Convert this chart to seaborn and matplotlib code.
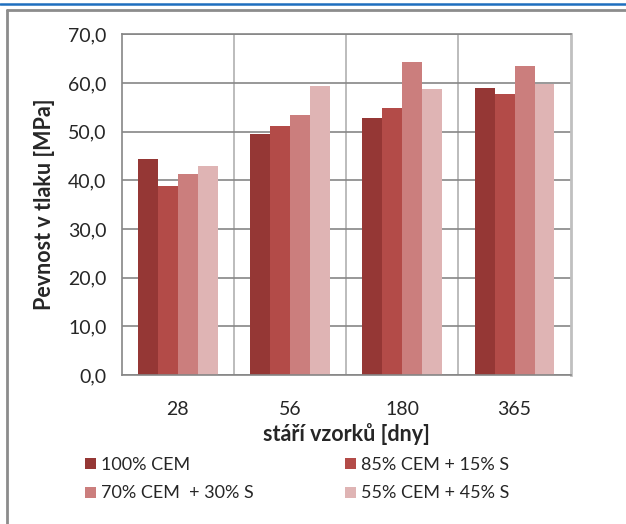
import numpy as np
import pandas as pd
import seaborn as sns
import matplotlib.pyplot as plt
from matplotlib.patches import Patch
from matplotlib.lines import Line2D

# data
ages = ['28', '56', '180', '365']
series = ['100% CEM', '85% CEM + 15% S', '70% CEM  + 30% S', '55% CEM + 45% S']
cem100 = [44.4, 49.5, 52.8, 58.9]
cem85 = [38.8, 51.1, 54.8, 57.7]
cem70 = [41.3, 53.4, 64.4, 63.6]
cem55 = [42.9, 59.3, 58.7, 59.9]
colors = ['#953735', '#B34B48', '#CB7E7D', '#DFB4B4']

df = pd.DataFrame({
    'age': ages * 4,
    'mix': np.repeat(series, 4),
    'val': cem100 + cem85 + cem70 + cem55,
})

sns.set_style('white')
plt.rcParams['font.family'] = ['Lato', 'DejaVu Sans']

fig = plt.figure(figsize=(6.26, 5.24), dpi=100)
ax = fig.add_axes([0.1944, 0.2844, 0.7173, 0.650])

sns.barplot(data=df, x='age', y='val', hue='mix', order=ages, hue_order=series,
            palette=colors, width=0.71, gap=0, saturation=1, linewidth=0,
            legend=False, ax=ax)

ax.set_ylim(0, 70)
ax.set_xlim(-0.5, 3.5)
ax.set_yticks(np.arange(0, 71, 10))
ax.set_yticklabels([f'{v:.1f}'.replace('.', ',') for v in np.arange(0, 71, 10)], fontsize=14)
ax.set_xticks(range(4))
ax.set_xticklabels(ages, fontsize=14)
ax.set_xticks([0.5, 1.5, 2.5], minor=True)
ax.tick_params(axis='x', which='major', length=0, pad=19)
ax.tick_params(axis='x', which='minor', length=7, width=1, color='#a6a6a6', direction='out')
ax.tick_params(axis='y', length=6, width=1, color='#868686', direction='out', pad=5)

ax.yaxis.grid(True, color='#868686', linewidth=1.2)
ax.set_axisbelow(True)
for x in [0.5, 1.5, 2.5]:
    ax.axvline(x, color='#b0b0b0', linewidth=1.2, zorder=0)

for s in ['top', 'left', 'bottom']:
    ax.spines[s].set_color('#868686')
    ax.spines[s].set_linewidth(1.2)
ax.spines['right'].set_color('#c0c0c0')
ax.spines['right'].set_linewidth(2)

ax.set_xlabel('stáří vzorků [dny]', fontsize=15.5, fontweight='bold', labelpad=3)
ax.set_ylabel('Pevnost v tlaku [MPa]', fontsize=15.5, fontweight='bold', labelpad=9)

# legend in two columns, placed like the original
handles = [Patch(facecolor=c, edgecolor='none') for c in colors]
for i, xpos in enumerate([0.125, 0.540]):
    fig.legend([handles[i], handles[i + 2]], [series[i], series[i + 2]],
               loc='upper left', bbox_to_anchor=(xpos, 0.142), frameon=False,
               fontsize=13, handlelength=0.57, handleheight=0.57,
               handletextpad=0.3, labelspacing=0.7, borderaxespad=0)

# chart frame and top rule
fig.add_artist(Line2D([0, 1], [1 - 3.5 / 524] * 2, color='#1f6fbf', linewidth=1.8))
fig.add_artist(Line2D([7 / 626, 1], [1 - 10 / 524] * 2, color='#8c8c8c', linewidth=2))
fig.add_artist(Line2D([7 / 626] * 2, [0, 1 - 10 / 524], color='#8c8c8c', linewidth=2))

fig.savefig('out.png', dpi=100)
